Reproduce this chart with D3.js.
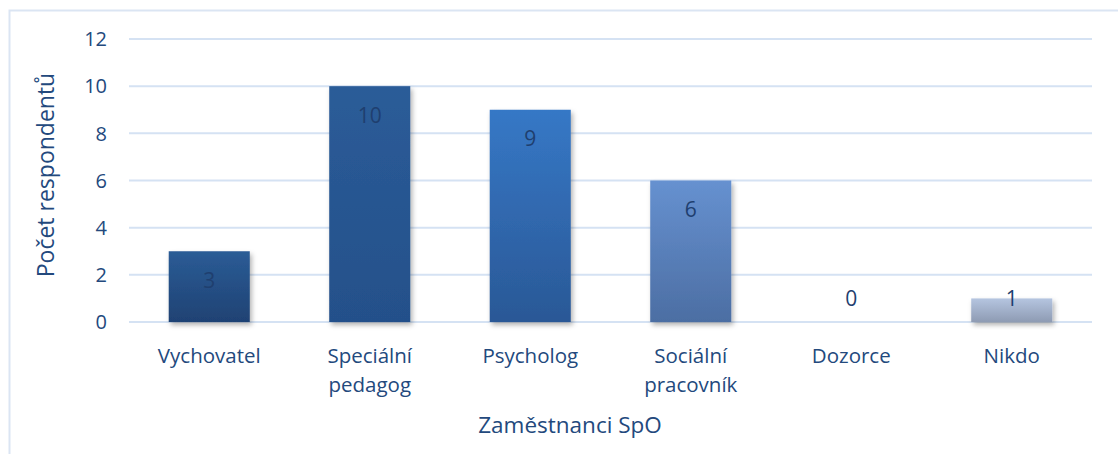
<!DOCTYPE html>
<html><head><meta charset="utf-8">
<script src="https://cdn.jsdelivr.net/npm/d3@7/dist/d3.min.js"></script>
<style>
html,body{margin:0;padding:0;background:#fff;}
svg{display:block;font-family:"Open Sans",sans-serif;}
</style></head>
<body><svg id="c" width="1118" height="454"></svg>
<script>
const categories = [["Vychovatel"],["Speciální","pedagog"],["Psycholog"],["Sociální","pracovník"],["Dozorce"],["Nikdo"]];
const values = [3,10,9,6,0,1];
const yTicks = [0,2,4,6,8,10,12];
const barTop = ["#2b5c96","#2b5c98","#3678c6","#6691d0","#4a6aa0","#b5c5e0"];
const barBot = ["#1f4273","#24508a","#2a5896","#4c6ea3","#4a6aa0","#8e9bb3"];
const xTitle = "Zaměstnanci SpO";
const yTitle = "Počet respondentů";

const svg = d3.select("#c");
const textColor = "#23497d";
const m = {l:129, r:1092, t:39, b:322};
const x = d3.scaleBand().domain(d3.range(categories.length)).range([m.l, m.r]).paddingInner(0.495).paddingOuter(0.2475);
const y = d3.scaleLinear().domain([0,12]).range([m.b, m.t]);

const defs = svg.append("defs");
barTop.forEach((c,i)=>{
  const g = defs.append("linearGradient").attr("id","g"+i).attr("x1",0).attr("y1",0).attr("x2",0).attr("y2",1);
  g.append("stop").attr("offset","0%").attr("stop-color",c);
  g.append("stop").attr("offset","100%").attr("stop-color",barBot[i]);
});
const f = defs.append("filter").attr("id","sh").attr("x","-20%").attr("y","-20%").attr("width","150%").attr("height","150%");
f.append("feDropShadow").attr("dx",2).attr("dy",3).attr("stdDeviation",2.5).attr("flood-color","#000").attr("flood-opacity",0.3);

// frame
svg.append("path").attr("d","M9.5,454 V10.5 H1118").attr("fill","none").attr("stroke","#dbe5f3").attr("stroke-width",2);

// grid
svg.append("g").selectAll("line").data(yTicks).join("line")
  .attr("x1",m.l).attr("x2",m.r).attr("y1",d=>y(d)).attr("y2",d=>y(d))
  .attr("stroke","#d5e2f3").attr("stroke-width",2);

// y tick labels
svg.append("g").selectAll("text").data(yTicks).join("text")
  .attr("x",107).attr("y",d=>y(d)).attr("dy","0.36em").attr("text-anchor","end")
  .attr("fill",textColor).attr("font-size",20).text(d=>d);

// bars
svg.append("g").selectAll("rect").data(values).join("rect")
  .attr("x",(d,i)=>x(i)).attr("width",x.bandwidth())
  .attr("y",d=>y(d)).attr("height",d=>y(0)-y(d))
  .attr("fill",(d,i)=>"url(#g"+i+")").attr("filter","url(#sh)");

// value labels
svg.append("g").selectAll("text").data(values).join("text")
  .attr("x",(d,i)=>x(i)+x.bandwidth()/2)
  .attr("y",d=>Math.min(y(d)+29, y(0)-24)).attr("dy","0.36em").attr("text-anchor","middle")
  .attr("fill","#1f3f6f").attr("font-size",21).text(d=>d);

// category labels
const cl = svg.append("g").selectAll("text").data(categories).join("text")
  .attr("x",(d,i)=>x(i)+x.bandwidth()/2).attr("y",356)
  .attr("text-anchor","middle").attr("fill",textColor).attr("font-size",20.5);
cl.selectAll("tspan").data(d=>d).join("tspan")
  .attr("x",function(){return this.parentNode.getAttribute("x");})
  .attr("dy",(d,j)=>j===0?"0.36em":"29px").text(d=>d);

// axis titles
svg.append("text").attr("x",570).attr("y",425).attr("dy","0.36em").attr("text-anchor","middle")
  .attr("fill",textColor).attr("font-size",22.5).text(xTitle);
svg.append("text").attr("transform","translate(46,175) rotate(-90)").attr("dy","0.36em").attr("text-anchor","middle")
  .attr("fill",textColor).attr("font-size",23).text(yTitle);
</script></body></html>
